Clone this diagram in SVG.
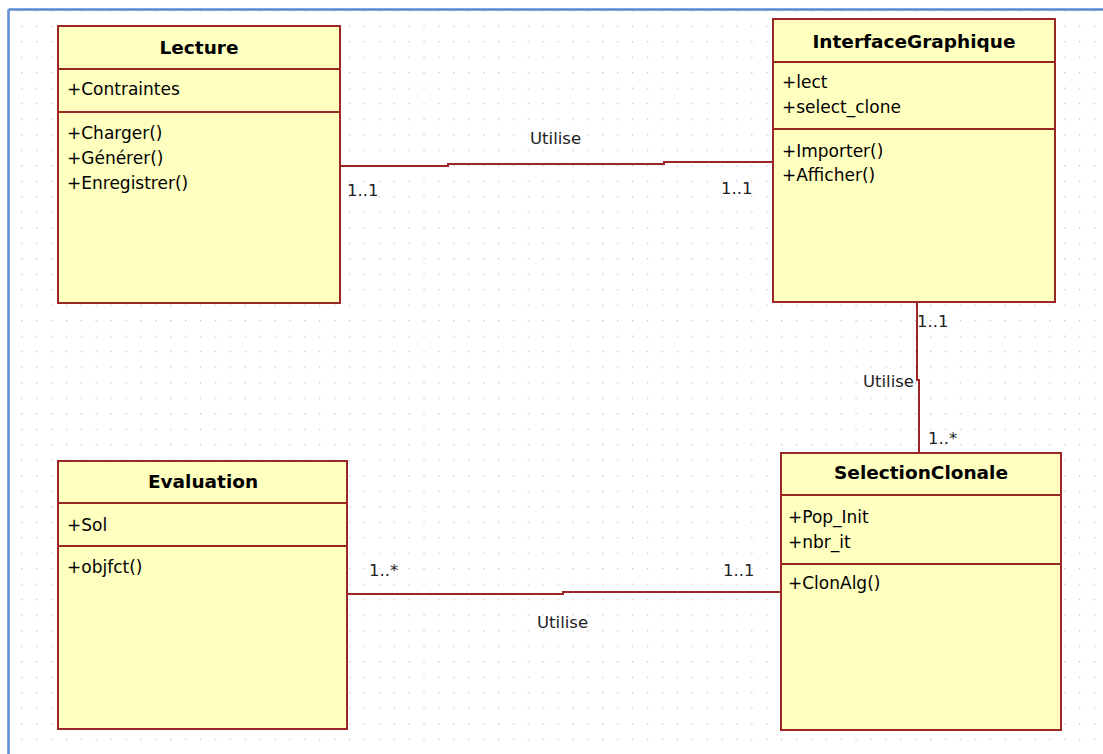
<svg xmlns="http://www.w3.org/2000/svg" width="1103" height="754" viewBox="0 0 1103 754">
  <defs>
    <pattern id="grid" patternUnits="userSpaceOnUse" x="6.2" y="10.1" width="14.9" height="15.5">
      <rect x="0" y="0" width="1.3" height="1.3" fill="#c4c4c4"/>
    </pattern>
  </defs>
  <style>
    .box { fill: #ffffc0; stroke: #9a2626; stroke-width: 2; }
    .div { stroke: #9a2626; stroke-width: 2; }
    .title { font-family: "DejaVu Sans", sans-serif; font-weight: bold; font-size: 18.5px; fill: #000; text-anchor: middle; }
    .txt { font-family: "DejaVu Sans", sans-serif; font-size: 17px; fill: #000; }
    .lbl { font-family: "DejaVu Sans", sans-serif; font-size: 16.5px; fill: #222; }
    .conn { fill: none; stroke: #9a2626; stroke-width: 2; }
  </style>
  <rect x="0" y="0" width="1103" height="754" fill="#ffffff"/>
  <rect x="9" y="10" width="1094" height="744" fill="url(#grid)"/>
  <g id="frame">
    <line x1="8.5" y1="9.5" x2="1103" y2="9.5" stroke="#5b8bd0" stroke-width="2.5"/>
    <line x1="8.5" y1="9.5" x2="8.5" y2="754" stroke="#5b8bd0" stroke-width="2.5"/>
  </g>
  <g id="connectors">
    <polyline class="conn" points="340,166 448,166 448,164 664,164 664,162 774,162"/>
    <polyline class="conn" points="917,302 917,380 919,380 919,453"/>
    <polyline class="conn" points="348,594 563,594 563,592 781,592"/>
    <text class="lbl" x="530" y="144">Utilise</text>
    <text class="lbl" x="347" y="196">1..1</text>
    <text class="lbl" x="721" y="194">1..1</text>
    <text class="lbl" x="917" y="327">1..1</text>
    <text class="lbl" x="914" y="387" text-anchor="end">Utilise</text>
    <text class="lbl" x="928" y="444">1..*</text>
    <text class="lbl" x="369" y="576">1..*</text>
    <text class="lbl" x="723" y="576">1..1</text>
    <text class="lbl" x="537" y="628">Utilise</text>
  </g>
  <g id="Lecture">
    <rect class="box" x="58" y="26" width="282" height="277"/>
    <line class="div" x1="58" y1="69" x2="340" y2="69"/>
    <line class="div" x1="58" y1="112" x2="340" y2="112"/>
    <text class="title" x="199" y="53.5">Lecture</text>
    <text class="txt" x="67" y="95">+Contraintes</text>
    <text class="txt" x="67" y="139">+Charger()</text>
    <text class="txt" x="67" y="164">+Générer()</text>
    <text class="txt" x="67" y="189">+Enregistrer()</text>
  </g>
  <g id="InterfaceGraphique">
    <rect class="box" x="773" y="19" width="282" height="283"/>
    <line class="div" x1="773" y1="62" x2="1055" y2="62"/>
    <line class="div" x1="773" y1="129" x2="1055" y2="129"/>
    <text class="title" x="914" y="48">InterfaceGraphique</text>
    <text class="txt" x="782" y="88">+lect</text>
    <text class="txt" x="782" y="113">+select_clone</text>
    <text class="txt" x="782" y="157">+Importer()</text>
    <text class="txt" x="782" y="181">+Afficher()</text>
  </g>
  <g id="SelectionClonale">
    <rect class="box" x="781" y="453" width="280" height="277"/>
    <line class="div" x1="781" y1="495" x2="1061" y2="495"/>
    <line class="div" x1="781" y1="564" x2="1061" y2="564"/>
    <text class="title" x="921" y="479">SelectionClonale</text>
    <text class="txt" x="788" y="523">+Pop_Init</text>
    <text class="txt" x="788" y="548">+nbr_it</text>
    <text class="txt" x="788" y="589">+ClonAlg()</text>
  </g>
  <g id="Evaluation">
    <rect class="box" x="58" y="461" width="289" height="268"/>
    <line class="div" x1="58" y1="503" x2="347" y2="503"/>
    <line class="div" x1="58" y1="546" x2="347" y2="546"/>
    <text class="title" x="203" y="488">Evaluation</text>
    <text class="txt" x="67" y="531">+Sol</text>
    <text class="txt" x="67" y="573">+objfct()</text>
  </g>
</svg>
